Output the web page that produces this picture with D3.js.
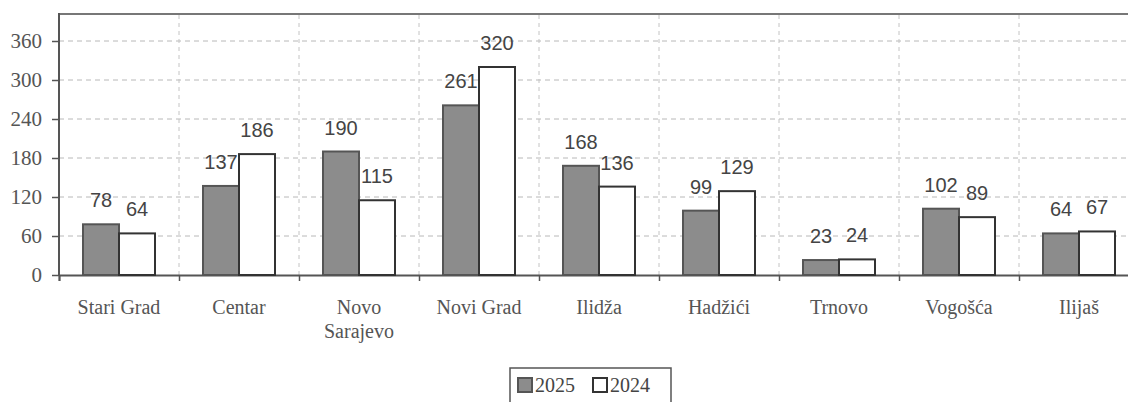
<!DOCTYPE html>
<html><head><meta charset="utf-8">
<script src="https://cdn.jsdelivr.net/npm/d3@7/dist/d3.min.js"></script>
<style>body{margin:0;background:#fff}svg{display:block}</style>
</head><body>
<svg id="c" width="1128" height="402"></svg>
<script>
const categories = ["Stari Grad","Centar","Novo\nSarajevo","Novi Grad","Ilidža","Hadžići","Trnovo","Vogošća","Ilijaš"];
const seriesNames = ["2025","2024"];
const values2025 = [78,137,190,261,168,99,23,102,64];
const values2024 = [64,186,115,320,136,129,24,89,67];
const yTicks = [0,60,120,180,240,300,360];

const svg = d3.select("#c");
const L = 59, R = 1139, T = 15, B = 275;
const x = d3.scaleBand().domain(categories).range([L, R]).paddingInner(0).paddingOuter(0);
const y = d3.scaleLinear().domain([0, 400]).range([B, T]);
const groupW = x.bandwidth() * 0.6;
const x1 = d3.scaleBand().domain(seriesNames).range([(x.bandwidth()-groupW)/2, (x.bandwidth()+groupW)/2]);
const fills = {"2025":"#8c8c8c","2024":"#ffffff"};
const strokes = {"2025":"#555","2024":"#333"};

const serif = "'Liberation Serif','Times New Roman',serif";
const sans = "'Liberation Sans',Arial,sans-serif";

// horizontal grid
svg.append("g").selectAll("line").data(yTicks.filter(d=>d>0)).join("line")
  .attr("x1", L).attr("x2", R).attr("y1", d=>y(d)).attr("y2", d=>y(d))
  .attr("stroke","#b8b8b8").attr("stroke-width",1).attr("stroke-dasharray","5,4");
// vertical grid at category boundaries
svg.append("g").selectAll("line").data(categories.slice(1)).join("line")
  .attr("x1", d=>x(d)).attr("x2", d=>x(d)).attr("y1", T).attr("y2", B)
  .attr("stroke","#c4c4c4").attr("stroke-width",1).attr("stroke-dasharray","4,4");

// top border
svg.append("line").attr("x1",L).attr("x2",R).attr("y1",T-1).attr("y2",T-1).attr("stroke","#777").attr("stroke-width",2);

// y axis
const yAxis = d3.axisLeft(y).tickValues(yTicks).tickSize(7).tickPadding(10).tickFormat(d3.format("d"));
const gy = svg.append("g").attr("transform",`translate(${L},0)`).call(yAxis);
gy.select(".domain").attr("stroke","#555").attr("stroke-width",2).attr("d",`M0,${T-2}V${B}`);
gy.selectAll(".tick line").attr("stroke","#555").attr("stroke-width",1.5);
gy.selectAll(".tick text").attr("font-family",serif).attr("font-size",21).attr("fill","#555");

// x axis
const xb = d3.scaleLinear().domain([0, categories.length]).range([L, R]);
const gx = svg.append("g").attr("transform",`translate(0,${B})`)
  .call(d3.axisBottom(xb).ticks(categories.length).tickSize(6).tickFormat(""));
gx.select(".domain").attr("stroke","#555").attr("stroke-width",2);
gx.selectAll(".tick line").attr("stroke","#555").attr("stroke-width",1.5);

// category labels
const cl = svg.append("g").selectAll("text").data(categories).join("text")
  .attr("x", d=>x(d)+x.bandwidth()/2).attr("y", 314)
  .attr("text-anchor","middle").attr("font-family",serif).attr("font-size",20).attr("fill","#555");
cl.each(function(d){
  const t = d3.select(this);
  d.split("\n").forEach((s,i)=>{
    t.append("tspan").attr("x", x(d)+x.bandwidth()/2).attr("dy", i===0?0:24).text(s);
  });
});

// bars
const data = categories.map((c,i)=>({c, v:{"2025":values2025[i],"2024":values2024[i]}}));
const g = svg.append("g").selectAll("g").data(data).join("g").attr("transform", d=>`translate(${x(d.c)},0)`);
g.selectAll("rect").data(d=>seriesNames.map(s=>({s, v:d.v[s]}))).join("rect")
  .attr("x", d=>x1(d.s)).attr("width", x1.bandwidth())
  .attr("y", d=>y(d.v)).attr("height", d=>B - y(d.v))
  .attr("fill", d=>fills[d.s]).attr("stroke", d=>strokes[d.s]).attr("stroke-width",2);
// value labels
g.selectAll("text").data(d=>seriesNames.map(s=>({s, v:d.v[s]}))).join("text")
  .attr("x", d=>x1(d.s)+x1.bandwidth()/2).attr("y", d=>y(d.v)-17)
  .attr("text-anchor","middle").attr("font-family",sans).attr("font-size",20).attr("fill","#444")
  .text(d=>d.v);

// legend
const lg = svg.append("g");
lg.append("rect").attr("x",510).attr("y",368).attr("width",161).attr("height",44)
  .attr("fill","#fff").attr("stroke","#555").attr("stroke-width",1.5);
const items = [{s:"2025",x:517},{s:"2024",x:592}];
items.forEach(it=>{
  lg.append("rect").attr("x",it.x+1).attr("y",378).attr("width",14).attr("height",14)
    .attr("fill",fills[it.s]).attr("stroke",strokes[it.s]).attr("stroke-width",2);
  lg.append("text").attr("x",it.x+18).attr("y",392).attr("font-family",serif).attr("font-size",20)
    .attr("fill","#444").text(it.s);
});
</script>
</body></html>
